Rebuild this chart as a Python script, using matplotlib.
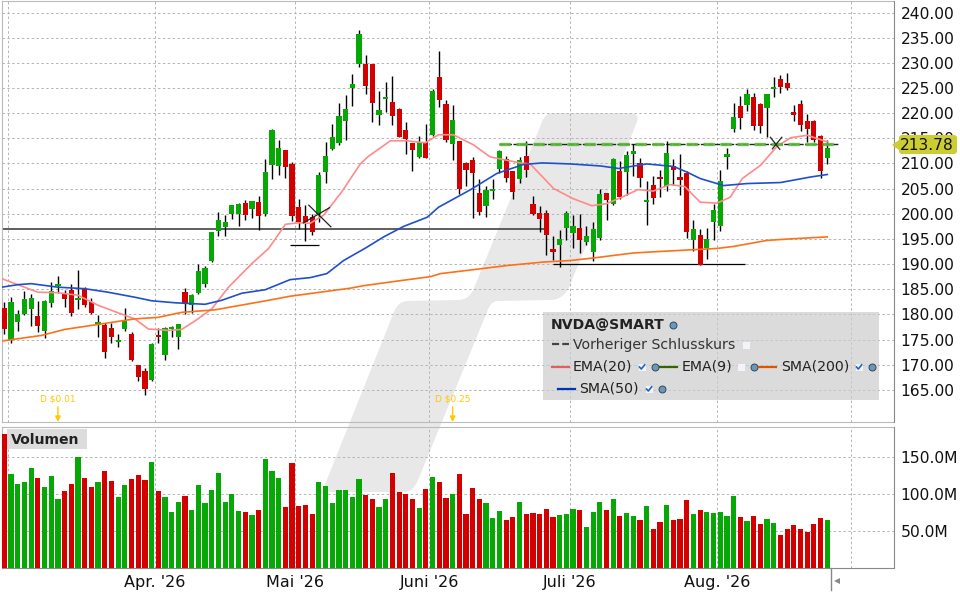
import matplotlib
matplotlib.use("Agg")
import matplotlib.pyplot as plt
from matplotlib.lines import Line2D
from matplotlib.patches import PathPatch, Polygon, Rectangle
from matplotlib.path import Path
from matplotlib.transforms import Affine2D

plt.rcParams['font.family'] = ['DejaVu Sans']

opens = [181.2, 175.0, 178.4, 180.0, 181.0, 179.6, 176.6, 182.2, 185.7, 184.0,
         184.8, 182.8, 185.0, 182.4, 177.9, 177.8, 177.2, 174.6, 177.0, 176.0,
         169.9, 168.7, 166.9, 175.8, 172.0, 177.0, 175.4, 184.4, 181.8, 184.2,
         186.0, 190.7, 196.5, 197.3, 199.9, 199.9, 202.1, 200.9, 202.3, 199.9,
         209.6, 209.4, 212.6, 209.8, 201.3, 199.5, 199.3, 200.0, 208.2, 212.8,
         214.0, 218.4, 224.9, 229.7, 229.7, 229.7, 219.6, 222.9, 222.3, 220.8,
         216.6, 214.0, 211.2, 214.2, 215.6, 227.1, 221.8, 213.8, 214.4, 210.0,
         210.6, 204.2, 201.5, 204.6, 208.8, 210.8, 208.4, 207.0, 211.4, 202.0,
         200.1, 200.1, 192.9, 193.7, 197.1, 196.1, 197.1, 194.3, 192.3, 195.1,
         204.2, 201.9, 208.4, 208.2, 211.8, 210.0, 202.3, 205.8, 207.4, 205.6,
         209.4, 207.4, 208.0, 194.7, 195.7, 193.1, 198.3, 197.5, 211.2, 216.8,
         221.4, 221.6, 223.3, 221.9, 221.0, 224.7, 226.7, 225.9, 220.2, 221.8,
         218.4, 218.4, 215.4, 211.0]
closes = [177.0, 182.4, 180.0, 183.0, 183.2, 177.6, 182.6, 184.6, 186.0, 183.0,
          180.2, 183.2, 181.8, 180.2, 178.4, 172.6, 175.4, 175.0, 178.6, 171.0,
          167.5, 165.1, 174.2, 175.4, 177.2, 177.4, 178.0, 182.0, 183.8, 188.6,
          189.2, 196.3, 198.7, 198.3, 201.7, 201.9, 199.7, 202.5, 199.5, 208.2,
          216.6, 213.0, 209.2, 199.5, 198.3, 198.3, 196.3, 207.8, 211.4, 215.2,
          219.4, 220.8, 225.7, 235.7, 225.3, 222.1, 220.6, 223.3, 219.4, 215.2,
          214.8, 212.6, 214.2, 211.0, 224.3, 222.7, 214.6, 218.6, 205.0, 208.6,
          208.0, 200.3, 204.8, 205.0, 212.4, 207.2, 204.4, 210.6, 208.6, 199.9,
          198.9, 195.7, 192.3, 194.9, 200.1, 197.5, 194.7, 195.5, 196.9, 204.0,
          202.7, 210.8, 203.4, 211.6, 212.4, 207.2, 202.7, 203.2, 207.0, 212.0,
          208.6, 206.8, 196.3, 196.9, 189.9, 194.9, 200.7, 206.6, 211.8, 219.2,
          219.0, 223.9, 217.4, 217.4, 223.9, 225.1, 225.1, 224.9, 219.6, 217.6,
          216.8, 214.6, 208.4, 213.0]
highs = [182.45, 183.4, 180.8, 184.6, 184.0, 182.6, 182.8, 186.4, 187.6, 184.8,
         186.0, 188.8, 185.4, 183.2, 179.8, 178.2, 178.2, 176.0, 181.2, 176.4,
         169.9, 169.3, 174.4, 177.2, 177.4, 177.6, 178.0, 185.2, 184.0, 190.0,
         189.6, 196.3, 200.3, 199.7, 201.7, 202.1, 202.7, 202.5, 203.6, 210.8,
         216.8, 214.6, 212.6, 210.2, 202.9, 201.7, 199.9, 208.2, 214.2, 217.8,
         222.1, 223.7, 227.7, 236.5, 231.5, 229.7, 224.3, 226.1, 227.3, 221.0,
         218.2, 214.0, 215.4, 217.8, 224.7, 232.3, 222.7, 221.6, 214.4, 210.2,
         211.2, 207.0, 205.6, 207.0, 212.6, 211.4, 208.4, 211.2, 214.4, 203.6,
         201.5, 200.7, 195.5, 196.7, 200.5, 199.7, 199.9, 197.5, 198.3, 205.0,
         204.2, 211.0, 210.4, 212.4, 213.8, 211.0, 206.6, 207.6, 208.6, 214.4,
         210.8, 211.8, 208.4, 198.7, 196.9, 197.1, 201.9, 208.6, 213.0, 222.1,
         223.5, 224.7, 224.1, 222.1, 223.9, 227.1, 227.5, 227.9, 221.6, 222.7,
         219.8, 218.6, 215.6, 214.6]
lows = [176.0, 174.3, 176.6, 179.8, 177.6, 176.4, 175.2, 181.4, 184.2, 181.4,
        179.6, 181.0, 181.4, 180.0, 175.4, 171.4, 174.4, 173.6, 176.6, 170.8,
        166.7, 163.9, 166.7, 174.4, 171.0, 175.4, 173.2, 180.0, 180.2, 184.0,
        185.4, 190.5, 195.5, 195.5, 198.9, 197.5, 198.7, 199.1, 196.7, 199.5,
        207.0, 207.8, 207.2, 198.5, 196.9, 194.5, 195.7, 198.3, 206.2, 212.6,
        213.6, 214.6, 221.4, 229.1, 223.9, 218.2, 217.6, 220.2, 217.6, 215.2,
        211.8, 208.4, 211.0, 211.0, 215.4, 221.2, 214.2, 210.6, 204.0, 205.6,
        199.1, 199.7, 199.3, 203.0, 208.0, 206.4, 203.0, 206.2, 207.4, 199.7,
        196.3, 191.7, 190.9, 189.5, 194.7, 193.1, 192.1, 193.7, 190.7, 194.7,
        198.7, 201.7, 202.9, 203.8, 207.6, 205.4, 197.7, 202.0, 203.4, 204.6,
        205.8, 203.8, 195.1, 192.5, 189.9, 191.1, 194.7, 196.5, 208.8, 216.2,
        216.8, 220.4, 216.6, 216.0, 215.2, 223.3, 224.1, 224.5, 218.4, 216.4,
        214.2, 214.2, 207.2, 209.8]
volumes = [181.5, 127.5, 114, 116.7, 135.6, 122, 110, 124.8, 93.7, 104.5,
           114, 150.5, 122, 110, 116.7, 131.5, 118, 96.4, 112.6, 120.7,
           126, 119.4, 143.7, 104.5, 96.4, 76, 89.6, 97.7, 78.8, 112.6,
           88.3, 105.9, 128.8, 89.6, 100.5, 77.5, 76, 72, 78.8, 147.7,
           131.5, 122, 82.9, 142.3, 84.2, 85.6, 73.4, 116.7, 111.3, 88.3,
           105.9, 105.9, 96.4, 120.7, 99, 93.7, 82.9, 93.7, 128.8, 103,
           100.5, 93.7, 81.5, 107.2, 123.4, 116.7, 95, 100.5, 127.5, 73.4,
           108.6, 93.7, 88.3, 68, 77.5, 65.3, 69.4, 89.6, 73.4, 74.8,
           73.4, 80.2, 69.4, 72, 73.4, 80.2, 78.8, 55.9, 76, 89.6,
           78.8, 93.7, 70.7, 74.8, 70.7, 65.3, 84.2, 53.2, 62.6, 85.6,
           65.3, 66.7, 92.3, 73.4, 78.8, 76, 74.8, 76, 70.7, 97.7,
           69.4, 64, 70.7, 59.9, 66.7, 61.3, 45, 53.2, 58.6, 53.2,
           49, 59.9, 68, 65.3]

ema20_days = [-0.4, 2, 5, 8, 11, 14, 17, 19.5, 21.5, 24.5, 26.5, 28.5, 31, 33.5, 37,
              39.5, 40.5, 42, 44, 45.7, 47.7, 50.4, 53.2, 54.4, 57.7, 60.2, 62.9,
              64.9, 67.1, 70.1, 72.6, 77.1, 78.6, 82.1, 85, 87.8, 90, 92.3, 94.7,
              97, 99.5, 101.7, 104, 106.5, 108.5, 110.3, 113, 115.5, 117.5, 120, 123]
ema20_values = [187.1, 185.9, 184.4, 184.3, 183.8, 181.8, 180.3, 179.1, 177.1, 176.8,
                177.0, 178.7, 181.1, 185.4, 190.1, 193.1, 195.0, 197.9, 198.2, 198.1,
                199.7, 204.3, 209.9, 211.4, 214.5, 214.5, 214.1, 215.7, 215.7, 213.7,
                211.3, 210.1, 209.9, 205.0, 203.0, 201.6, 202.0, 203.3, 204.8, 204.5,
                205.8, 205.4, 202.3, 202.1, 203.3, 207.0, 209.6, 213.4, 215.1, 215.6,
                214.3]
sma50_days = [-0.4, 2, 4, 8, 12, 15.5, 19.5, 22, 25.5, 30, 32.5, 35.5, 39, 42.7, 45.7,
              48.2, 50.7, 54, 56.7, 59.7, 63.2, 64.9, 69.7, 73.6, 77.6, 80.4, 84.6,
              89.1, 91.8, 96, 100, 102, 104, 107.5, 111, 116, 120.5, 123]
sma50_values = [185.4, 185.9, 186.1, 185.4, 185.1, 184.4, 183.4, 182.7, 182.3, 182.0,
                182.8, 184.2, 184.9, 186.9, 187.3, 188.1, 190.7, 193.2, 195.4, 197.5,
                199.3, 201.3, 204.8, 208.0, 209.8, 210.1, 209.9, 209.5, 209.0, 209.9,
                209.4, 208.3, 207.0, 205.6, 206.0, 206.2, 207.3, 207.8]
sma200_days = [-0.4, 5.5, 9, 14.5, 19.5, 23, 26.5, 31.5, 39.5, 42.7, 47.2, 51.7, 53.7,
               59.2, 63.7, 65.2, 70.2, 75.1, 80.6, 84.6, 88, 94, 98, 106.5, 109, 114,
               117.5, 123]
sma200_values = [174.7, 175.8, 177.0, 178.1, 179.1, 179.4, 180.4, 180.9, 182.8, 183.6,
                 184.4, 185.2, 185.7, 186.7, 187.5, 188.1, 188.9, 189.7, 190.4, 190.7,
                 191.2, 192.2, 192.5, 193.1, 193.5, 194.7, 195.0, 195.4]

price_ticks = [165, 170, 175, 180, 185, 190, 195, 200, 205, 210, 215, 220, 225, 230, 235, 240]
volume_ticks = [50, 100, 150]
month_ticks = [0.5, 22.5, 43.5, 63.5, 84.5, 106.5, 126.5]
month_labels = ['', "Apr. '26", "Mai '26", "Juni '26", "Juli '26", "Aug. '26", '']

last_price = 213.78
prev_close = 213.9
support_day = [-0.4, 80.9]
support_price = 196.9
low_day = [42.7, 47]
low_price = 193.8
floor_day = [82, 110.7]
floor_price = 190.0
prev_close_day = [74, 124.6]
cross_a = [[45.5, 48.8, 201.7, 197.4], [44.7, 48.6, 198.2, 201.2]]
cross_b = [[114.5, 115.9, 215.2, 212.8], [114.8, 116.2, 212.9, 215.2]]
dividend_day = [8, 67]
dividend_text = ['D $0.01', 'D $0.25']

RED = '#d40000'
GREEN = '#06a806'
GRID = '#b4b4b4'
GOLD = '#ffc800'

fig = plt.figure(figsize=(9.6, 6), dpi=100, facecolor='white')
ax = fig.add_axes([2 / 960, 1 - 422 / 600, 891.5 / 960, 421 / 600])
ax_vol = fig.add_axes([2 / 960, 1 - 568.3 / 600, 891.5 / 960, 141 / 600])
ax.patch.set_alpha(0)
ax_vol.patch.set_alpha(0)

# pixels, y going down, for everything that sits outside the data
px = Affine2D().scale(1, -1).translate(0, 600)

# watermark logo behind both panes
wm_verts = [(553, 113), (630, 113), (640, 113), (637, 122), (572, 280), (566, 300), (550, 300),
            (497, 301), (490, 302), (487, 312), (418, 480), (413, 492), (405, 492),
            (333, 492), (322, 492), (326, 482), (394, 312), (398, 301), (408, 301),
            (458, 300), (470, 300), (474, 288), (542, 122), (545, 113), (553, 113)]
wm_codes = [Path.MOVETO, Path.LINETO, Path.CURVE3, Path.CURVE3, Path.LINETO, Path.CURVE3, Path.CURVE3,
            Path.LINETO, Path.CURVE3, Path.CURVE3, Path.LINETO, Path.CURVE3, Path.CURVE3,
            Path.LINETO, Path.CURVE3, Path.CURVE3, Path.LINETO, Path.CURVE3, Path.CURVE3,
            Path.LINETO, Path.CURVE3, Path.CURVE3, Path.LINETO, Path.CURVE3, Path.CURVE3]
fig.add_artist(PathPatch(Path(wm_verts, wm_codes), facecolor='#e8e8e8', edgecolor='none',
                         transform=px, zorder=-1))

days = list(range(len(closes)))
colors = [GREEN if c >= o else RED for o, c in zip(opens, closes)]

for a in (ax, ax_vol):
    a.set_xlim(-0.36, 132.9)
    a.set_xticks(month_ticks)
    a.grid(True, color=GRID, linewidth=0.7, linestyle=(0, (2.5, 2.5)))
    a.set_axisbelow(True)
    a.yaxis.tick_right()
    a.tick_params(length=0, labelsize=11.2, colors='#111111')
    for side in ('top', 'left'):
        a.spines[side].set_color('#bbbbbb')
    a.spines['right'].set_color('#888888')
    a.spines['bottom'].set_color('#bbbbbb')

ax.set_ylim(158.6, 242.29)
ax.set_yticks(price_ticks)
ax.set_yticklabels(['%.2f' % p for p in price_ticks])
ax.tick_params(axis='y', pad=5)
ax.tick_params(axis='x', labelbottom=False)

ax.hlines(support_price, support_day[0], support_day[1], color='#333333', linewidth=1.1, zorder=2)
ax.hlines(low_price, low_day[0], low_day[1], color='black', linewidth=0.9, zorder=2)
ax.hlines(floor_price, floor_day[0], floor_day[1], color='black', linewidth=0.9, zorder=2)
ax.hlines(prev_close, prev_close_day[0], prev_close_day[1], color='#222222', linewidth=1,
          linestyle=(0, (4, 1)), zorder=2)

ax.vlines(days, lows, highs, color='black', linewidth=1, zorder=3)
ax.bar(days, [c - o for o, c in zip(opens, closes)], bottom=opens, width=0.78, color=colors, zorder=4)

ax.plot(ema20_days, ema20_values, color='#ff8a8a', linewidth=1.2, zorder=5)
ax.plot(sma50_days, sma50_values, color='#1f4fd0', linewidth=1.2, zorder=5)
ax.plot(sma200_days, sma200_values, color='#ff7018', linewidth=1.2, zorder=5)
ax.hlines(prev_close, prev_close_day[0], prev_close_day[1], color='#5cb83c', linewidth=2.4,
          linestyle=(0, (3.4, 1.7)), alpha=0.9, zorder=6)

for line in cross_a + cross_b:
    ax.plot(line[:2], line[2:], color='#222222', linewidth=0.9, zorder=7)

for d, t in zip(dividend_day, dividend_text):
    ax.text(d, 163.2, t, color=GOLD, fontsize=6.5, ha='center', va='center')
    ax.annotate('', xy=(d, 158.6), xytext=(d, 161.6),
                arrowprops=dict(arrowstyle='-|>', color=GOLD, linewidth=1, shrinkA=0, shrinkB=0,
                                mutation_scale=8))

ax_vol.set_ylim(0, 190.5)
ax_vol.set_yticks(volume_ticks)
ax_vol.set_yticklabels(['%.1fM' % v for v in volume_ticks])
ax_vol.tick_params(axis='y', pad=5)
ax_vol.set_xticklabels(month_labels)
ax_vol.tick_params(axis='x', pad=4.5, labelsize=11.5)
ax_vol.spines['bottom'].set_color('#888888')
ax_vol.bar(days, volumes, width=0.78, color=colors, zorder=3)


def px_text(x, y, s, **kw):
    kw.setdefault('fontsize', 10.2)
    kw.setdefault('color', '#222222')
    fig.text(x, y, s, transform=px, va='center', zorder=12, **kw)


def px_line(x0, x1, y, color, **kw):
    fig.add_artist(Line2D([x0, x1], [y, y], color=color, linewidth=1.6, transform=px, zorder=11, **kw))


def px_icon(x, y):
    fig.add_artist(Line2D([x], [y], marker='o', markersize=5, color='#6f97b5',
                          markeredgecolor='#2b4a66', markeredgewidth=0.7, transform=px, zorder=11))


def px_box(x, y, checked):
    fig.add_artist(Rectangle((x - 3.5, y - 3.5), 7, 7, facecolor='#f4f4f8', edgecolor='none',
                             transform=px, zorder=11))
    if checked:
        fig.add_artist(Line2D([x - 2.5, x - 0.7, x + 2.7], [y, y + 2, y - 2.2], color='#1a66cc',
                              linewidth=1.2, transform=px, zorder=12))


# yellow last price tag
fig.add_artist(Polygon([(892, 145), (899, 140), (899, 137), (901, 135), (955, 135), (957, 137),
                        (957, 152), (955, 154), (901, 154), (899, 152), (899, 150)],
                       closed=True, facecolor='#cccc33', edgecolor='none', transform=px, zorder=10))
px_text(900, 145, '%.2f' % last_price, fontsize=11.2, color='#111111')

# pane labels and legend box
fig.add_artist(Rectangle((7, 429), 80, 20, facecolor='#dcdcdc', edgecolor='none', transform=px, zorder=10))
px_text(11, 440, 'Volumen', fontweight='bold', fontsize=10.1)

fig.add_artist(Rectangle((543, 312), 336, 88, facecolor='#cccccc', alpha=0.7, edgecolor='none',
                         transform=px, zorder=10))
px_text(551, 325, 'NVDA@SMART', fontweight='bold', fontsize=10.1)
px_icon(673, 325)
px_line(552, 569, 344, '#444444', linestyle=(0, (3.2, 1.4)))
px_text(573, 345, 'Vorheriger Schlusskurs', color='#333333')
px_box(746, 345, False)
px_line(552, 569, 367, '#e06060')
px_text(573, 367, 'EMA(20)')
px_box(642, 367, True)
px_icon(655, 367)
px_line(660, 677, 367, '#336600')
px_text(682, 367, 'EMA(9)')
px_box(741, 367, False)
px_icon(754, 367)
px_line(759, 776, 367, '#dd5500')
px_text(781, 367, 'SMA(200)')
px_box(859, 367, True)
px_icon(872, 367)
px_line(558, 575, 389, '#0033bb')
px_text(579, 389, 'SMA(50)')
px_box(649, 389, True)
px_icon(662, 389)

# small scroll stub under the last bar
fig.add_artist(Line2D([830.5, 830.5], [568, 590], color='#888888', linewidth=1, transform=px, zorder=5))
fig.add_artist(Line2D([836.5], [581], marker='<', markersize=5, color='#888888', markeredgewidth=0,
                      transform=px, zorder=5))

fig.savefig('out.png', dpi=100)
